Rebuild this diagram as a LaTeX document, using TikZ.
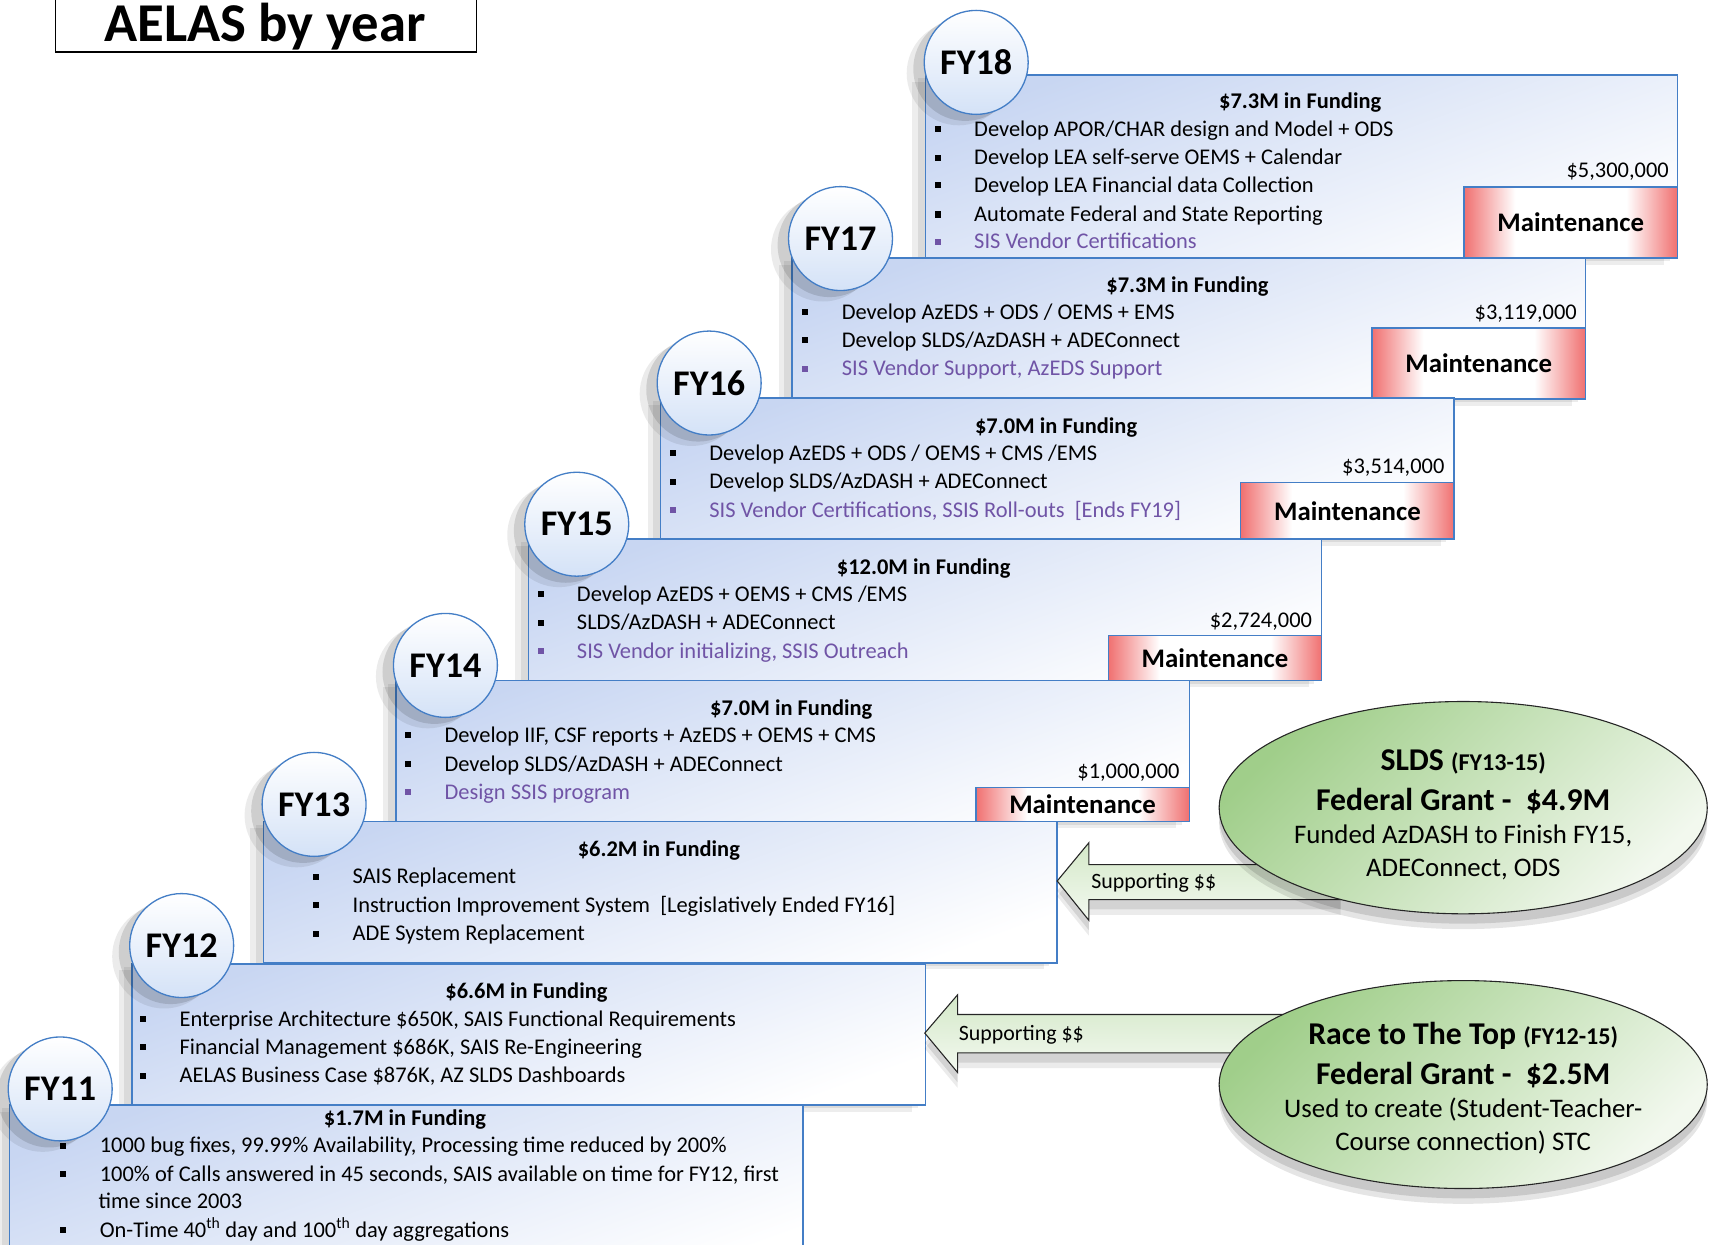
\documentclass[tikz,border=0pt]{standalone}
\usepackage{fontspec}
\setmainfont{Carlito}
\usetikzlibrary{shapes.geometric,shadows}
\definecolor{bblue}{RGB}{68,126,198}
\definecolor{lblue}{RGB}{200,214,242}
\definecolor{cblue}{RGB}{212,226,247}
\definecolor{purp}{RGB}{112,84,166}
\definecolor{mred}{RGB}{240,112,112}
\definecolor{gA}{RGB}{160,206,138}
\definecolor{gB}{RGB}{242,248,238}
\definecolor{arA}{RGB}{212,232,200}
\definecolor{arB}{RGB}{243,249,240}
\pgfdeclarehorizontalshading{maintsh}{100bp}{color(0bp)=(mred); color(25bp)=(mred); color(37bp)=(white); color(63bp)=(white); color(75bp)=(mred); color(100bp)=(mred)}
\newcommand\fsbody{\fontsize{20.5}{24}\selectfont}
\newcounter{bc}
\newcommand\bl[3]{\stepcounter{bc}\node[sq] (s\thebc) at (#1,#2) {};\node[bt] (l\thebc) at ({#1+33},{#2+6.5}) {#3};}
\newcommand\pl[3]{\stepcounter{bc}\node[sq,fill=purp] (s\thebc) at (#1,#2) {};\node[bt,text=purp] (l\thebc) at ({#1+33},{#2+6.5}) {#3};}
\tikzset{
  yearbox/.style={draw=bblue, line width=1.4pt, top color=lblue, bottom color=white, shading angle=20,
    minimum width=725pt, minimum height=129pt, anchor=north west, inner sep=0,
    drop shadow={shadow xshift=-12pt, shadow yshift=-6pt, opacity=.07, fill=black},
    drop shadow={shadow xshift=-7pt, shadow yshift=-3pt, opacity=.08, fill=black}},
  fycirc/.style={circle, draw=bblue, line width=1.2pt, top color=white, bottom color=cblue,
    minimum size=95pt, inner sep=0, font=\fontsize{33}{33}\selectfont\bfseries,
    drop shadow={shadow xshift=-16pt, shadow yshift=-10pt, opacity=.08, fill=black},
    drop shadow={shadow xshift=-10pt, shadow yshift=-6pt, opacity=.12, fill=black}},
  maint/.style={draw=bblue, line width=1.4pt, shade, shading=maintsh,
    minimum width=195pt, anchor=south east, inner sep=0, font=\fontsize{24.5}{24.5}\selectfont\bfseries},
  ftitle/.style={anchor=base, font=\fsbody\bfseries, inner sep=0},
  amt/.style={anchor=base east, font=\fsbody, inner sep=0},
  bt/.style={anchor=base west, font=\fsbody, inner sep=0},
  sq/.style={rectangle, fill=black, minimum size=5.5pt, inner sep=0},
  grant/.style={ellipse, draw=black!85, line width=1pt, top color=gA, bottom color=gB, shading angle=45,
    minimum width=446pt, minimum height=194pt, inner sep=0,
    drop shadow={shadow xshift=0pt, shadow yshift=-14pt, opacity=.1, fill=black},
    drop shadow={shadow xshift=0pt, shadow yshift=-9pt, opacity=.12, fill=black}},
  supp/.style={draw=black!85, line width=1pt, top color=arA, bottom color=arB,
    drop shadow={shadow xshift=0pt, shadow yshift=-14pt, opacity=.08, fill=black},
    drop shadow={shadow xshift=0pt, shadow yshift=-9pt, opacity=.1, fill=black}},
  gbig/.style={anchor=base, font=\fontsize{29}{29}\selectfont\bfseries, inner sep=0},
  gtxt/.style={anchor=base, font=\fontsize{24.5}{24.5}\selectfont, inner sep=0},
  stxt/.style={anchor=base west, font=\fontsize{20}{20}\selectfont, inner sep=0},
}
\begin{document}
\begin{tikzpicture}[x=1pt,y=-1pt]
\useasboundingbox (0,0) rectangle (1568,1137);
% title
\node[draw, line width=1.3pt, minimum width=385pt, minimum height=80pt, anchor=south west, inner sep=0] (titlebox) at (50,48) {};
\node[anchor=base, font=\fontsize{50}{50}\selectfont\bfseries, inner sep=0] (title) at (242,38) {AELAS by year};

% FY18
\node[yearbox, minimum width=687pt, minimum height=167pt] (box18) at (845,68) {};
\node[maint, minimum height=65pt] (m18) at (box18.south east) {Maintenance};
\node[ftitle] (h18) at (1188,99) {\$7.3M in Funding};
\bl{857}{118}{Develop APOR/CHAR design and Model + ODS}
\bl{857}{144}{Develop LEA self-serve OEMS + Calendar}
\bl{857}{169}{Develop LEA Financial data Collection}
\bl{857}{196}{Automate Federal and State Reporting}
\pl{857}{221}{SIS Vendor Certifications}
\node[amt] (a18) at (1525,162) {\$5,300,000};
\node[fycirc] (c18) at (892,57) {FY18};

% FY17
\node[yearbox] (box17) at (723,235) {};
\node[maint, minimum height=65pt] (m17) at (box17.south east) {Maintenance};
\node[ftitle] (h17) at (1085,267) {\$7.3M in Funding};
\bl{736}{285}{Develop AzEDS + ODS / OEMS + EMS}
\bl{736}{311}{Develop SLDS/AzDASH + ADEConnect}
\pl{736}{337}{SIS Vendor Support, AzEDS Support}
\node[amt] (a17) at (1441,292) {\$3,119,000};
\node[fycirc] (c17) at (768,218) {FY17};

% FY16
\node[yearbox] (box16) at (603,363) {};
\node[maint, minimum height=52pt] (m16) at (box16.south east) {Maintenance};
\node[ftitle] (h16) at (965,396) {\$7.0M in Funding};
\bl{615}{414}{Develop AzEDS + ODS / OEMS + CMS /EMS}
\bl{615}{440}{Develop SLDS/AzDASH + ADEConnect}
\pl{615}{466}{SIS Vendor Certifications, SSIS Roll-outs~~[Ends FY19]}
\node[amt] (a16) at (1320,433) {\$3,514,000};
\node[fycirc] (c16) at (648,350) {FY16};

% FY15
\node[yearbox] (box15) at (482,492) {};
\node[maint, minimum height=41pt] (m15) at (box15.south east) {Maintenance};
\node[ftitle] (h15) at (844,525) {\$12.0M in Funding};
\bl{494}{543}{Develop AzEDS + OEMS + CMS /EMS}
\bl{494}{569}{SLDS/AzDASH + ADEConnect}
\pl{494}{595}{SIS Vendor initializing, SSIS Outreach}
\node[amt] (a15) at (1199,573) {\$2,724,000};
\node[fycirc] (c15) at (527,479) {FY15};

% FY14
\node[yearbox] (box14) at (361,621) {};
\node[maint, minimum height=31pt] (m14) at (box14.south east) {Maintenance};
\node[ftitle] (h14) at (723,654) {\$7.0M in Funding};
\bl{373}{672}{Develop IIF, CSF reports + AzEDS + OEMS + CMS}
\bl{373}{698}{Develop SLDS/AzDASH + ADEConnect}
\pl{373}{724}{Design SSIS program}
\node[amt] (a14) at (1078,711) {\$1,000,000};
\node[fycirc] (c14) at (407,608) {FY14};

% FY13
\node[yearbox] (box13) at (240,750) {};
\node[ftitle] (h13) at (602,783) {\$6.2M in Funding};
\bl{289}{801}{SAIS Replacement}
\bl{289}{827}{Instruction Improvement System~~[Legislatively Ended FY16]}
\bl{289}{853}{ADE System Replacement}
\node[fycirc] (c13) at (287,735) {FY13};

% FY12
\node[yearbox] (box12) at (120,880) {};
\node[ftitle] (h12) at (481,912) {\$6.6M in Funding};
\bl{131}{931}{Enterprise Architecture \$650K, SAIS Functional Requirements}
\bl{131}{957}{Financial Management \$686K, SAIS Re-Engineering}
\bl{131}{983}{AELAS Business Case \$876K, AZ SLDS Dashboards}
\node[fycirc] (c12) at (166,864) {FY12};

% FY11
\node[yearbox, minimum height=160pt] (box11) at (8,1009) {};
\node[ftitle] (h11) at (370,1028) {\$1.7M in Funding};
\bl{58}{1047}{1000 bug fixes, 99.99\% Availability, Processing time reduced by 200\%}
\bl{58}{1073}{100\% of Calls answered in 45 seconds, SAIS available on time for FY12, first}
\node[bt] (l11c) at (90,1104.5) {time since 2003};
\bl{58}{1124}{On-Time 40\textsuperscript{th} day and 100\textsuperscript{th} day aggregations}
\node[fycirc] (c11) at (55,995) {FY11};

% supporting arrows
\path[supp] (966,805) -- (995,770) -- (995,790) -- (1225,790) -- (1225,822) -- (995,822) -- (995,841) -- cycle;
\node[stxt] (sup1) at (997,811.5) {Supporting \$\$};
\path[supp] (845,944) -- (875,909) -- (875,927) -- (1180,927) -- (1180,962) -- (875,962) -- (875,980) -- cycle;
\node[stxt] (sup2) at (876,950.5) {Supporting \$\$};

% grants
\node[grant] (slds) at (1337,738) {};
\node[gbig] (slds1) at (1337,704) {SLDS {\fontsize{22}{22}\selectfont (FY13-15)}};
\node[gbig] (slds2) at (1337,741) {Federal Grant -~~\$4.9M};
\node[gtxt] (slds3) at (1337,771) {Funded AzDASH to Finish FY15,};
\node[gtxt] (slds4) at (1337,801) {ADEConnect, ODS};

\node[grant, minimum height=190pt] (rttt) at (1337,991) {};
\node[gbig] (rttt1) at (1337,954) {Race to The Top {\fontsize{22}{22}\selectfont (FY12-15)}};
\node[gbig] (rttt2) at (1337,991) {Federal Grant -~~\$2.5M};
\node[gtxt] (rttt3) at (1337,1021) {Used to create (Student-Teacher-};
\node[gtxt] (rttt4) at (1337,1051) {Course connection) STC};
\end{tikzpicture}
\end{document}
